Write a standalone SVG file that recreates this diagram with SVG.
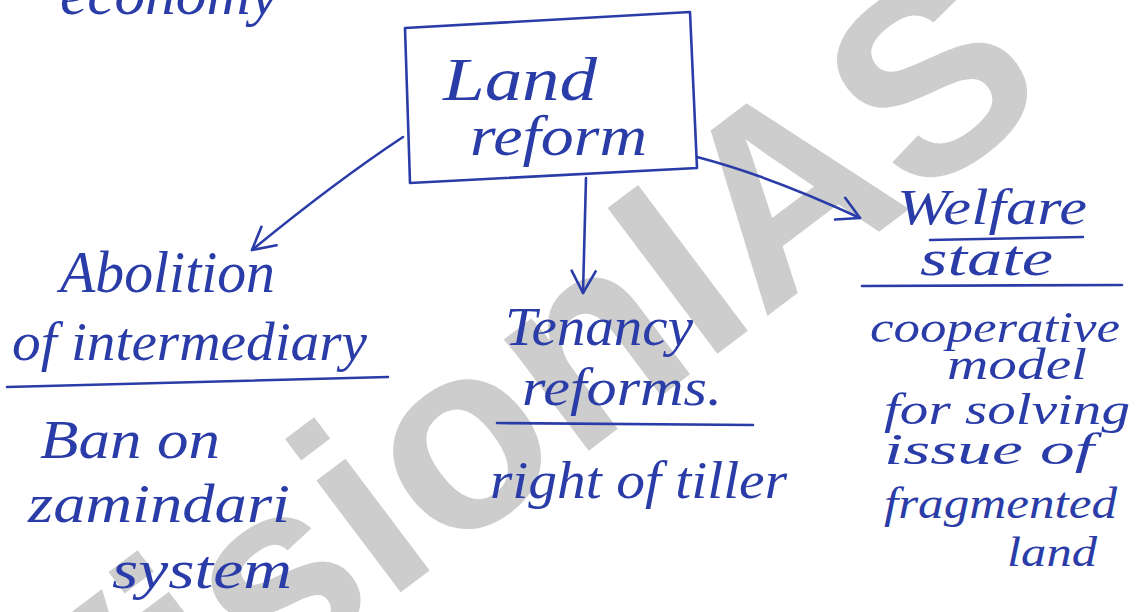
<svg xmlns="http://www.w3.org/2000/svg" width="1140" height="612" viewBox="0 0 1140 612">
<defs>
<style>
.ink{font-family:"Liberation Serif","DejaVu Serif",serif;font-style:italic;fill:#2a3ca8;}
.stroke{fill:none;stroke:#2a3ca8;stroke-width:2.6;stroke-linecap:round;stroke-linejoin:round;}
.wm{font-family:"Liberation Sans",Arial,sans-serif;font-weight:bold;fill:#cdcdcd;}
</style>
<marker id="ah" markerUnits="userSpaceOnUse" markerWidth="34" markerHeight="34" refX="30" refY="17" orient="auto">
<path d="M8,5 L30,17 L8,29" fill="none" stroke="#2a3ca8" stroke-width="2.6" stroke-linecap="round" stroke-linejoin="round"/>
</marker>
</defs>
<rect width="1140" height="612" fill="#ffffff"/>
<g id="watermark">
<text class="wm" font-size="265" transform="translate(72,840) rotate(-37)">VisionIAS</text>
</g>
<g id="connectors">
<path class="stroke" d="M403,137 Q335,182 252,250" marker-end="url(#ah)"/>
<path class="stroke" d="M586,178 C585,220 584,260 583,293" marker-end="url(#ah)"/>
<path class="stroke" d="M697,157 Q770,176 860,218" marker-end="url(#ah)"/>
</g>
<g id="economy">
<text class="ink" font-size="60" x="60" y="14" textLength="218" lengthAdjust="spacingAndGlyphs">economy</text>
</g>
<g id="land-reform">
<path class="stroke" d="M405,28 L690,12 L697,168 L410,183 Z"/>
<text class="ink" font-size="62" x="443" y="100" textLength="154" lengthAdjust="spacingAndGlyphs">Land</text>
<text class="ink" font-size="58" x="470" y="155" textLength="177" lengthAdjust="spacingAndGlyphs">reform</text>
</g>
<g id="abolition">
<text class="ink" font-size="60" x="60" y="292" textLength="215" lengthAdjust="spacingAndGlyphs">Abolition</text>
<text class="ink" font-size="54" x="12" y="360" textLength="355" lengthAdjust="spacingAndGlyphs">of intermediary</text>
<path class="stroke" d="M7,387 L388,377"/>
<text class="ink" font-size="54" x="40" y="458" textLength="180" lengthAdjust="spacingAndGlyphs">Ban on</text>
<text class="ink" font-size="54" x="28" y="522" textLength="262" lengthAdjust="spacingAndGlyphs">zamindari</text>
<text class="ink" font-size="54" x="112" y="588" textLength="180" lengthAdjust="spacingAndGlyphs">system</text>
</g>
<g id="tenancy">
<text class="ink" font-size="54" x="505" y="345" textLength="188" lengthAdjust="spacingAndGlyphs">Tenancy</text>
<text class="ink" font-size="52" x="522" y="405" textLength="200" lengthAdjust="spacingAndGlyphs">reforms.</text>
<path class="stroke" d="M497,423 L753,425"/>
<text class="ink" font-size="52" x="490" y="498" textLength="297" lengthAdjust="spacingAndGlyphs">right of tiller</text>
</g>
<g id="welfare">
<text class="ink" font-size="50" x="897" y="224" textLength="190" lengthAdjust="spacingAndGlyphs">Welfare</text>
<path class="stroke" d="M930,240 L1083,237"/>
<text class="ink" font-size="50" x="920" y="275" textLength="133" lengthAdjust="spacingAndGlyphs">state</text>
<path class="stroke" d="M862,286 L1122,285"/>
<text class="ink" font-size="44" x="870" y="342" textLength="250" lengthAdjust="spacingAndGlyphs">cooperative</text>
<text class="ink" font-size="44" x="947" y="379" textLength="140" lengthAdjust="spacingAndGlyphs">model</text>
<text class="ink" font-size="44" x="884" y="424" textLength="246" lengthAdjust="spacingAndGlyphs">for solving</text>
<text class="ink" font-size="44" x="884" y="464" textLength="210" lengthAdjust="spacingAndGlyphs">issue of</text>
<text class="ink" font-size="44" x="884" y="518" textLength="233" lengthAdjust="spacingAndGlyphs">fragmented</text>
<text class="ink" font-size="42" x="1007" y="566" textLength="90" lengthAdjust="spacingAndGlyphs">land</text>
</g>
</svg>
